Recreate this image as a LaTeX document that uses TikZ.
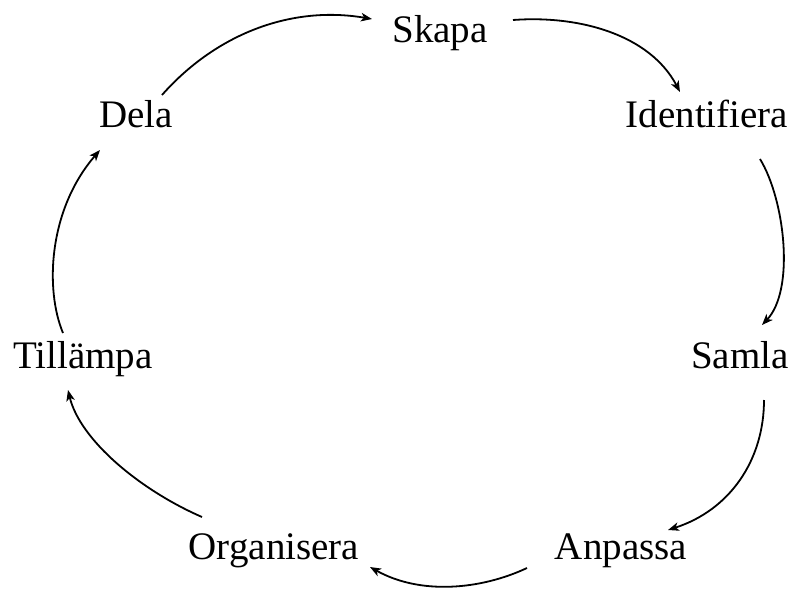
\documentclass[tikz,border=0pt]{standalone}
\usepackage{fontspec}
\setmainfont{Liberation Serif}
\usetikzlibrary{arrows.meta}
\begin{document}
\begin{tikzpicture}[x=1pt,y=-1pt,
  lbl/.style={anchor=base,inner sep=0pt,font=\fontsize{39}{46}\selectfont},
  flow/.style={line width=1.8pt,-{Stealth[length=11pt,width=8.5pt,inset=3pt]}}]
\useasboundingbox (0,0) rectangle (790,590);
\node[lbl] (skapa) at (440,42) {Skapa};
\node[lbl] (ident) at (707,127) {Identifiera};
\node[lbl] (samla) at (740,368) {Samla};
\node[lbl] (anpassa) at (621,559) {Anpassa};
\node[lbl] (organ) at (274,559) {Organisera};
\node[lbl] (till) at (83,368) {Tillämpa};
\node[lbl] (dela) at (136,127) {Dela};
\draw[flow] ([shift={(26,-32)}]dela.base) .. controls (215,35) and (290,5) .. ([shift={(-68,-23)}]skapa.base);
\draw[flow] ([shift={(73,-22)}]skapa.base) .. controls (580,15) and (650,35) .. ([shift={(-27,-35)}]ident.base);
\draw[flow] ([shift={(53,32)}]ident.base) .. controls (785,200) and (795,290) .. ([shift={(22,-43)}]samla.base);
\draw[flow] ([shift={(24,32)}]samla.base) .. controls (764,460) and (730,510) .. ([shift={(47,-29)}]anpassa.base);
\draw[flow] ([shift={(-94,9)}]anpassa.base) .. controls (480,590) and (420,595) .. ([shift={(96,8)}]organ.base);
\draw[flow] ([shift={(-72,-42)}]organ.base) .. controls (140,490) and (80,440) .. ([shift={(-15,22)}]till.base);
\draw[flow] ([shift={(-20,-35)}]till.base) .. controls (45,290) and (48,210) .. ([shift={(-36,23)}]dela.base);
\end{tikzpicture}
\end{document}
